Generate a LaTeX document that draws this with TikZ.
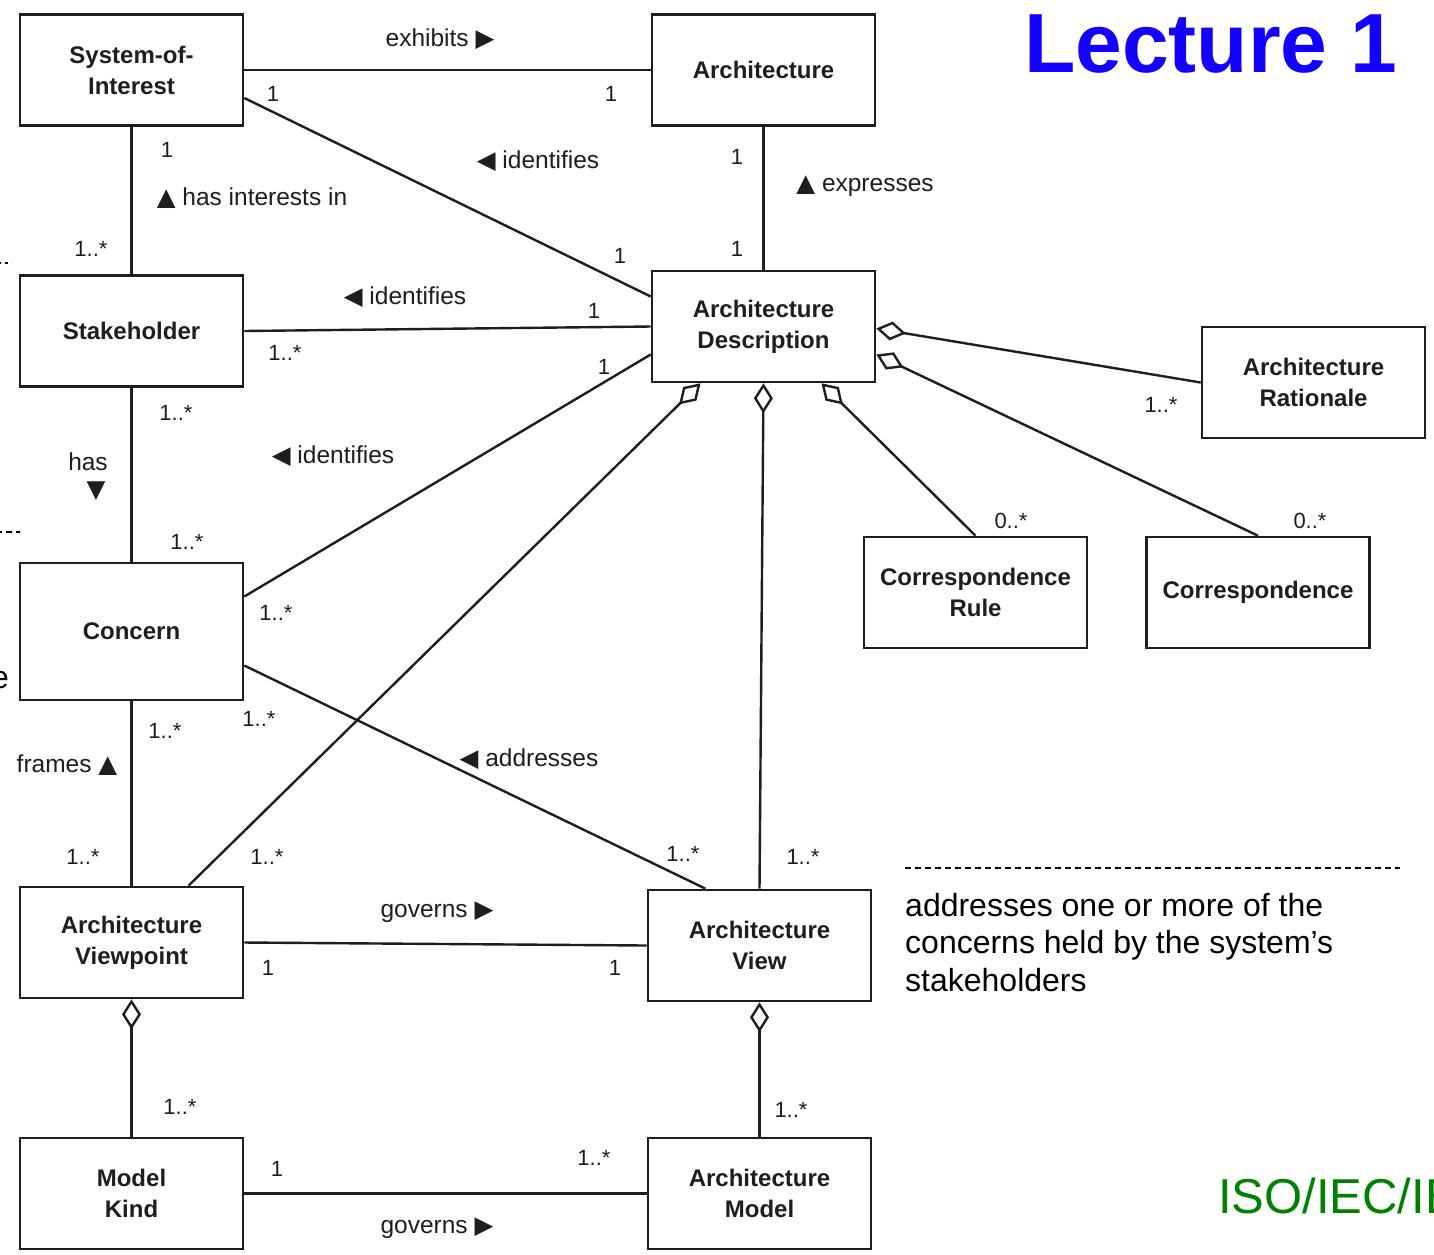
\documentclass[tikz,border=0pt]{standalone}
\usepackage{fontspec}
\setmainfont{Liberation Sans}
\newfontfamily\symfont{DejaVu Sans}
\usetikzlibrary{arrows.meta}
\definecolor{titleblue}{RGB}{20,0,255}
\definecolor{isogreen}{RGB}{0,130,0}
\definecolor{ink}{RGB}{30,30,30}
\newcommand{\rtri}{{\symfont ▶}}
\newcommand{\ltri}{{\symfont ◀}}
\newcommand{\utri}{{\symfont ▲}}
\newcommand{\dtri}{{\symfont ▼}}

\begin{document}
\begin{tikzpicture}[x=1pt,y=-1pt,
  box/.style={draw=ink, line width=2.6pt, minimum width=223pt,
    minimum height=111pt, align=center, inner sep=0pt, text=ink,
    font=\fontsize{24}{31}\selectfont\bfseries},
  assoc/.style={line width=2.4pt, draw=ink},
  agg/.style={assoc, -{Diamond[open,length=30pt,width=19pt]}},
  mult/.style={font=\fontsize{22}{22}\selectfont, inner sep=0pt, text=ink},
  rel/.style={font=\fontsize{24.5}{24.5}\selectfont, inner sep=0pt, text=ink},
  edgetext/.style={font=\fontsize{32}{37}\selectfont, inner sep=0pt, anchor=base west}]

\useasboundingbox (0,0) rectangle (1434,1254);
\fill[white] (0,0) rectangle (1434,1254);
\begin{scope}
\clip (0,0) rectangle (1434,1254);

% classes
\node[box] (soi)   at (131.5,70)    {System-of-\\Interest};
\node[box] (arch)  at (763.5,70)    {Architecture};
\node[box] (stk)   at (131.5,331)   {Stakeholder};
\node[box] (ad)    at (763.5,326.5) {Architecture\\Description};
\node[box] (rat)   at (1313.5,382.5){Architecture\\Rationale};
\node[box] (cr)    at (975.5,592.5) {Correspondence\\Rule};
\node[box] (corr)  at (1258,592.5)  {Correspondence};
\node[box, minimum height=137pt] (con) at (131.5,631.5) {Concern};
\node[box] (vp)    at (131.5,942.5) {Architecture\\Viewpoint};
\node[box] (view)  at (759.5,945.5) {Architecture\\View};
\node[box] (mk)    at (131.5,1193.5){Model\\Kind};
\node[box] (model) at (759.5,1193.5){Architecture\\Model};

% associations
\draw[assoc] (soi.east) -- (arch.west);
\draw[assoc] ([yshift=-28pt]soi.east) -- ([yshift=30pt]ad.west);
\draw[assoc] (arch.south) -- (ad.north);
\draw[assoc] (soi.south) -- (stk.north);
\draw[assoc] (stk.east) -- (ad.west);
\draw[assoc] (stk.south) -- (con.north);
\draw[assoc] ([yshift=35pt]con.east) -- ([yshift=-28pt]ad.west);
\draw[assoc] ([yshift=-34pt]con.east) -- ([xshift=-54pt]view.north);
\draw[assoc] (con.south) -- (vp.north);
\draw[assoc] (vp.east) -- (view.west);
\draw[assoc] (mk.east) -- (model.west);

% aggregations
\draw[agg] ([xshift=57pt]vp.north) -- ([xshift=-63pt]ad.south);
\draw[agg] (view.north) -- (ad.south);
\draw[agg] (cr.north) -- ([xshift=58pt]ad.south);
\draw[agg] (corr.north) -- ([yshift=-28pt]ad.east);
\draw[agg] (rat.west) -- ([yshift=-2pt]ad.east);
\draw[agg] (mk.north) -- (vp.south);
\draw[agg] (model.north) -- (view.south);

% association names
\node[rel] (l1) at (440,39)   {exhibits \rtri};
\node[rel] (l2) at (538,161)  {\ltri\ identifies};
\node[rel] (l3) at (865,186)  {\utri\ expresses};
\node[rel] (l4) at (252,198)  {\utri\ has interests in};
\node[rel] (l5) at (405,297)  {\ltri\ identifies};
\node[rel] (l6) at (88,462)   {has};
\node[rel] (l6b) at (96,491)  {\dtri};
\node[rel] (l7) at (333,456)  {\ltri\ identifies};
\node[rel] (l8) at (529,759)  {\ltri\ addresses};
\node[rel] (l9) at (67,765)   {frames \utri};
\node[rel] (l10) at (437,912) {governs \rtri};
\node[rel] (l11) at (437,1228){governs \rtri};

% multiplicities
\node[mult] (m1)  at (273,94)   {1};
\node[mult] (m2)  at (611,94)   {1};
\node[mult] (m3)  at (167,150)  {1};
\node[mult] (m4)  at (91,249)   {1..*};
\node[mult] (m5)  at (737,157)  {1};
\node[mult] (m6)  at (737,249)  {1};
\node[mult] (m7)  at (620,256)  {1};
\node[mult] (m8)  at (594,311)  {1};
\node[mult] (m9)  at (285,353)  {1..*};
\node[mult] (m10) at (604,367)  {1};
\node[mult] (m11) at (176,413)  {1..*};
\node[mult] (m12) at (187,542)  {1..*};
\node[mult] (m13) at (276,613)  {1..*};
\node[mult] (m14) at (1161,405) {1..*};
\node[mult] (m15) at (1011,521) {0..*};
\node[mult] (m16) at (1310,521) {0..*};
\node[mult] (m17) at (259,719)  {1..*};
\node[mult] (m18) at (165,731)  {1..*};
\node[mult] (m19) at (83,857)   {1..*};
\node[mult] (m20) at (267,857)  {1..*};
\node[mult] (m21) at (683,854)  {1..*};
\node[mult] (m22) at (803,857)  {1..*};
\node[mult] (m23) at (268,968)  {1};
\node[mult] (m24) at (615,968)  {1};
\node[mult] (m25) at (180,1107) {1..*};
\node[mult] (m26) at (791,1110) {1..*};
\node[mult] (m27) at (277,1169) {1};
\node[mult] (m28) at (594,1158) {1..*};

% slide annotations
\node[anchor=base west, inner sep=0pt, text=titleblue,
  font=\fontsize{84}{84}\selectfont\bfseries] (title) at (1024,72) {Lecture 1};
\node[anchor=base west, inner sep=0pt, text=isogreen,
  font=\fontsize{49}{49}\selectfont] (iso) at (1218,1213) {ISO/IEC/IEEE 42010};

\draw[line width=1.5pt, dash pattern=on 6pt off 4pt] (905,868) -- (1400,868);
\node[edgetext] (d1) at (905,916) {addresses one or more of the};
\node[edgetext] (d2) at (905,953) {concerns held by the system’s};
\node[edgetext] (d3) at (905,991) {stakeholders};

% fragments of neighbouring slide content at the left margin
\draw[line width=1.5pt, dash pattern=on 3pt off 4pt] (-2,263) -- (12,263);
\draw[line width=1.5pt, dash pattern=on 6pt off 4pt] (-4,532) -- (20,532);
\node[anchor=base east, inner sep=0pt, font=\fontsize{32}{37}\selectfont] (frag) at (9,688) {e};
\end{scope}
\end{tikzpicture}
\end{document}
